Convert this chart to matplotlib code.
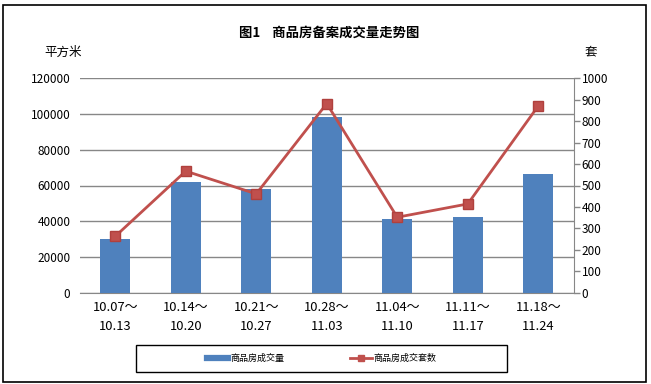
import matplotlib.pyplot as plt
import numpy as np
from matplotlib.lines import Line2D
from matplotlib.patches import Rectangle

plt.rcParams['font.family'] = ['Noto Sans CJK SC', 'DejaVu Sans']

# data
weeks = ["10.07～\n10.13", "10.14～\n10.20", "10.21～\n10.27", "10.28～\n11.03",
         "11.04～\n11.10", "11.11～\n11.17", "11.18～\n11.24"]
area = [29800, 61700, 57800, 98100, 41500, 42600, 66500]      # 平方米
units = [263, 567, 461, 882, 352, 414, 871]                   # 套
left_ticks = [0, 20000, 40000, 60000, 80000, 100000, 120000]
right_ticks = list(range(0, 1001, 100))

COLORS = {"bar": "#4F81BD", "line": "#C0504D", "grid": "#878787"}

W, H = 651, 384
fig = plt.figure(figsize=(W / 100, H / 100), dpi=100)

# plot area in pixel coords -> figure fractions
x0, x1, y_top, y_bot = 80, 573.5, 78.3, 292.7
ax = fig.add_axes([x0 / W, 1 - y_bot / H, (x1 - x0) / W, (y_bot - y_top) / H])
ax2 = ax.twinx()

x = np.arange(len(weeks))
ax.bar(x, area, width=0.42, color=COLORS["bar"], zorder=3)
ax.set_xlim(-0.5, len(weeks) - 0.5)
ax.set_ylim(0, 120000)
ax.set_yticks(left_ticks)
ax.set_yticklabels([str(v) for v in left_ticks])
ax.yaxis.grid(True, color=COLORS["grid"], linewidth=1)
ax.set_axisbelow(True)
ax.set_xticks(x)
ax.set_xticklabels(weeks, linespacing=1.55)
ax.tick_params(axis="x", length=0, pad=6, labelsize=9.3)
ax.tick_params(axis="y", length=0, pad=7, labelsize=8.5)
for s in ["left", "top", "right"]:
    ax.spines[s].set_visible(False)
ax.spines["bottom"].set_color(COLORS["grid"])

ax2.plot(x, units, color=COLORS["line"], linewidth=2, marker="s", markersize=7,
         markeredgecolor="#B0403D", zorder=5)
ax2.set_ylim(0, 1000)
ax2.set_yticks(right_ticks)
ax2.tick_params(axis="y", direction="out", length=4, width=1, color=COLORS["grid"],
                pad=2, labelsize=8.5)
for s in ["left", "top", "bottom"]:
    ax2.spines[s].set_visible(False)
ax2.spines["right"].set_color(COLORS["grid"])

# title and axis unit labels
fig.text(329 / W, 1 - 33 / H, "图1    商品房备案成交量走势图", ha="center", va="center",
         fontsize=9.6, fontweight="bold")
fig.text(63 / W, 1 - 52 / H, "平方米", ha="center", va="center", fontsize=9)
fig.text(591 / W, 1 - 52 / H, "套", ha="center", va="center", fontsize=9)

# legend: frame drawn separately so it can be as wide as the reference box
lx0, lx1, ly0, ly1 = 136, 507, 345, 372
fig.add_artist(Rectangle((lx0 / W, 1 - ly1 / H), (lx1 - lx0) / W, (ly1 - ly0) / H,
                         transform=fig.transFigure, fill=False, edgecolor="black",
                         linewidth=1))
handles = [Line2D([], [], color=COLORS["bar"], linewidth=4.5),
           Line2D([], [], color=COLORS["line"], linewidth=2, marker="s", markersize=5)]
fig.legend(handles, ["商品房成交量", "商品房成交套数"], ncol=2, loc="center",
           bbox_to_anchor=((lx0 + lx1) / 2 / W, 1 - (ly0 + ly1) / 2 / H), fontsize=6.5,
           frameon=False, handlelength=2.4, handletextpad=0.2, columnspacing=7.3)

# outer chart border
fig.add_artist(Rectangle((3 / W, 2 / H), (646 - 3) / W, (381 - 4) / H,
                         transform=fig.transFigure, fill=False, edgecolor="black",
                         linewidth=1.2))

fig.savefig("out.png", dpi=100)
